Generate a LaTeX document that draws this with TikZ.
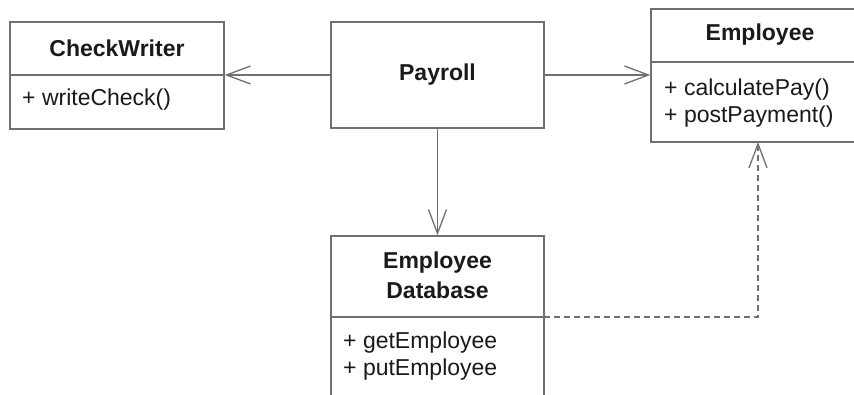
\documentclass[tikz,border=0pt]{standalone}
\usepackage{fontspec}
\setmainfont{Liberation Sans}
\usetikzlibrary{arrows.meta}
\definecolor{edge}{HTML}{707070}
\definecolor{ink}{HTML}{1A1A1A}
\tikzset{
  classbox/.style={draw=edge, line width=1.4pt, rectangle, inner sep=0pt, fill=white},
  title/.style={font=\fontsize{23}{27}\selectfont\bfseries, text=ink, inner sep=0pt, align=center},
  member/.style={font=\fontsize{23}{27}\selectfont, text=ink, inner sep=0pt, anchor=west},
  divider/.style={draw=edge, line width=1.4pt},
  assoc/.style={draw=edge, line width=1.4pt, -{Straight Barb[length=24pt, width=18pt, line width=1.3pt]}},
  depend/.style={assoc, dash pattern=on 6pt off 4pt}
}
\begin{document}
\begin{tikzpicture}[x=1pt, y=-1pt]
  \useasboundingbox (0,0) rectangle (854,394);
  \clip (0,0) rectangle (854,394);
  \fill[white] (0,0) rectangle (854,394);

  % classes
  \node[classbox, minimum width=214pt, minimum height=107pt] (cw) at (117,75.5) {};
  \node[classbox, minimum width=213pt, minimum height=106pt] (pay) at (437.5,75) {};
  \node[classbox, minimum width=218pt, minimum height=133pt] (emp) at (760,75.5) {};
  \node[classbox, minimum width=213pt, minimum height=174pt] (db) at (437.5,323) {};

  % compartment dividers
  \coordinate (cwL) at (10,75);   \coordinate (cwR) at (224,75);
  \coordinate (empL) at (651,62); \coordinate (empR) at (869,62);
  \coordinate (dbL) at (331,317); \coordinate (dbR) at (544,317);
  \draw[divider] (cwL) -- (cwR);
  \draw[divider] (empL) -- (empR);
  \draw[divider] (dbL) -- (dbR);

  % texts
  \node[title] (cwT) at (117,48) {CheckWriter};
  \node[member] (cwM) at (22,100) {+ writeCheck()};
  \node[title] (payT) at (437.5,75) {Payroll};
  \node[title] (empT) at (760,35) {Employee};
  \node[member] (empM1) at (664,90) {+ calculatePay()};
  \node[member] (empM2) at (664,117) {+ postPayment()};
  \node[title] (dbT1) at (437.5,263) {Employee};
  \node[title] (dbT2) at (437.5,290) {Database};
  \node[member] (dbM1) at (343,343) {+ getEmployee};
  \node[member] (dbM2) at (343,370) {+ putEmployee};

  % associations
  \draw[assoc] (pay.west) -- (cw.east |- pay.west);
  \draw[assoc] (pay.east) -- (emp.west |- pay.east);
  \draw[assoc] (pay.south) -- (db.north);

  % dependency
  \coordinate (empB) at (758,142);
  \draw[depend] (dbR) -| (empB);
\end{tikzpicture}
\end{document}
